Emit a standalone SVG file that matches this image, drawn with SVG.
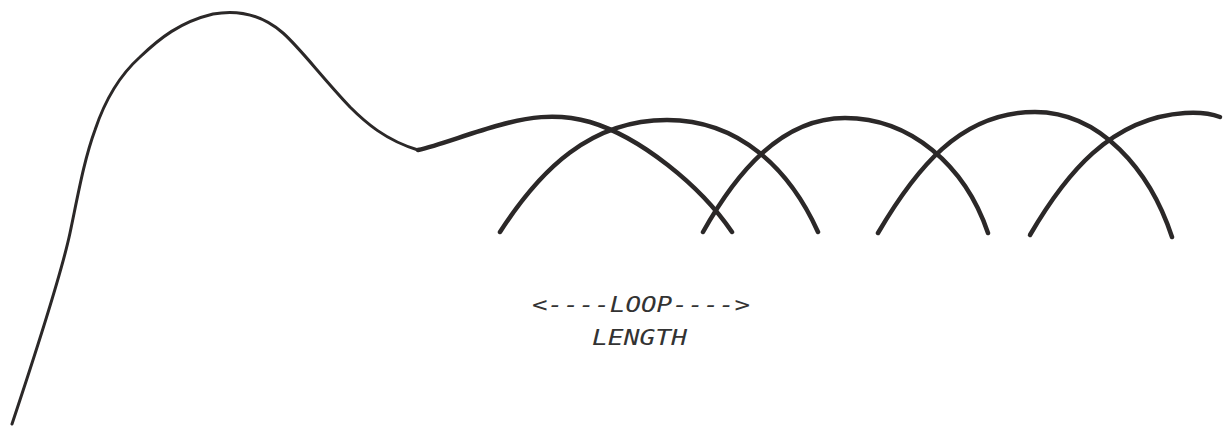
<svg xmlns="http://www.w3.org/2000/svg" width="1225" height="427" viewBox="0 0 1225 427">
<style>
.ln{fill:none;stroke:#2b2828;stroke-linecap:round;stroke-linejoin:round}
.thin{stroke-width:3}
.thick{stroke-width:4.5}
.lbl{font-family:"DejaVu Sans Mono","Liberation Mono",monospace;font-style:italic;font-size:21px;fill:#333}
</style>
<rect width="1225" height="427" fill="#fff"/>
<g id="curves">
<path class="ln thin" d="M12,424 C25,385 60,280 70,233 C78,195 84,160 95,130 C105,100 120,75 140,57 C160,38 180,22 213,14 C235,10 260,13 283,33 C300,48 320,75 350,107 C365,122 385,140 418,150"/>
<path class="ln thick" d="M418,150 C440,145 470,133 500,125 C525,118 555,112 590,122 C640,137 700,185 732,232"/>
<path class="ln thick" d="M500,232 C540,170 590,120 667,120 C740,120 790,170 818,232"/>
<path class="ln thick" d="M703,232 C735,175 780,118 845,118 C910,118 965,165 988,233"/>
<path class="ln thick" d="M878,233 C915,170 960,112 1035,112 C1100,112 1150,170 1172,237"/>
<path class="ln thick" d="M1030,235 C1065,175 1110,118 1185,113 C1200,112 1212,114 1220,117"/>
</g>
<g id="label">
<text class="lbl" x="532" y="312" textLength="218" lengthAdjust="spacingAndGlyphs">&lt;----LOOP----&gt;</text>
<text class="lbl" x="592" y="345" textLength="95" lengthAdjust="spacingAndGlyphs">LENGTH</text>
</g>
</svg>
